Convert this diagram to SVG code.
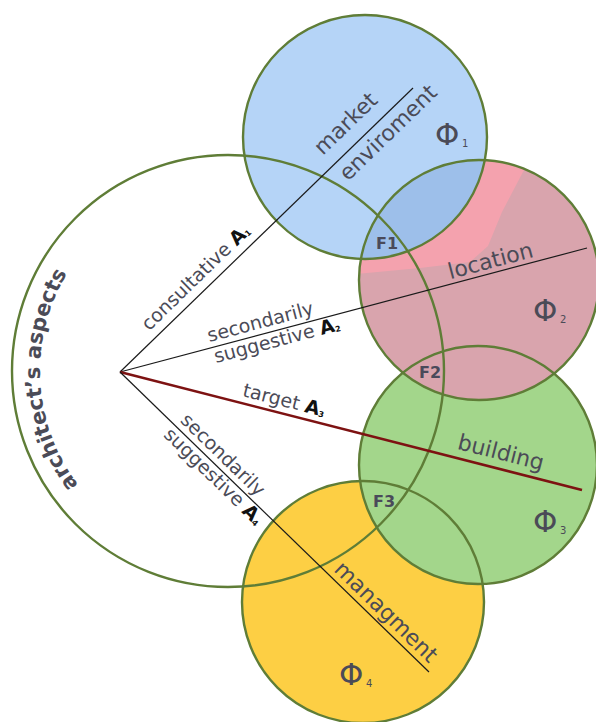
<svg xmlns="http://www.w3.org/2000/svg" width="596" height="722" viewBox="0 0 596 722">
<style>
  .ring{fill:none;stroke:#5f7d37;stroke-width:2.4}
  .lbl{font-family:"DejaVu Sans",Verdana,sans-serif;fill:#4b4b57}
  .big{font-size:22px}
  .mid{font-size:19px}
  .a{font-weight:bold;fill:#111}
  .sub{font-size:8px;font-weight:bold;fill:#111}
  .phi{font-family:"DejaVu Sans",sans-serif;font-size:31px;fill:#4b4b57}
  .phis{font-family:"DejaVu Sans",sans-serif;font-size:10px;fill:#4b4b57}
  .f{font-family:"DejaVu Sans",sans-serif;font-size:16px;font-weight:bold;fill:#4a4a5a}
  .ln{stroke:#1a1a1a;stroke-width:1.2;fill:none}
</style>
<defs>
  <clipPath id="clipRed"><circle cx="479" cy="280" r="120"/></clipPath>
  <path id="arcPath" d="M 142.6,538.5 A 188,188 0 0,1 125.6,213.3"/>
</defs>
<rect width="596" height="722" fill="#ffffff"/>

<g id="fills">
  <circle cx="363" cy="602" r="121" fill="#fdcf44"/>
  <circle cx="478" cy="465" r="119" fill="#a3d68b"/>
  <circle cx="479" cy="280" r="120" fill="#d9a4ad"/>
  <polygon clip-path="url(#clipRed)" points="355,150 532,150 524,170 502,212 488,246 470,262 420,268 355,274" fill="#f4a2ae"/>
  <circle cx="365" cy="137" r="122" fill="#b5d4f7"/>
  <circle clip-path="url(#clipRed)" cx="365" cy="137" r="122" fill="#9dbfea"/>
</g>

<g id="architect-aspects">
  <circle class="ring" cx="228" cy="371" r="216" stroke-width="2.2"/>
  <text class="lbl" font-size="21" font-weight="bold" fill="#444450"><textPath href="#arcPath" startOffset="50%" text-anchor="middle">architect’s aspects</textPath></text>
</g>

<g id="market-enviroment">
  <circle class="ring" cx="365" cy="137" r="122"/>
  <text class="phi" x="435" y="145">Φ</text><text class="phis" x="462" y="147">1</text>
</g>

<g id="location">
  <circle class="ring" cx="479" cy="280" r="120"/>
  <text class="phi" x="533" y="321">Φ</text><text class="phis" x="560" y="323">2</text>
</g>

<g id="building">
  <circle class="ring" cx="478" cy="465" r="119"/>
  <text class="phi" x="533" y="532">Φ</text><text class="phis" x="560" y="534">3</text>
</g>

<g id="managment">
  <circle class="ring" cx="363" cy="602" r="121"/>
  <text class="phi" x="339" y="685">Φ</text><text class="phis" x="366" y="687">4</text>
</g>

<g id="connectors">
  <line class="ln" x1="120" y1="372" x2="413" y2="88"/>
  <line class="ln" x1="120" y1="372" x2="587" y2="248"/>
  <line x1="120" y1="372" x2="582" y2="490" stroke="#7d1212" stroke-width="2.6"/>
  <line class="ln" x1="120" y1="372" x2="429" y2="672"/>
</g>

<g id="labels">
  <g transform="translate(120,372) rotate(-44.1)">
    <text class="lbl mid" x="49" y="-9">consultative <tspan class="a">A</tspan><tspan class="sub" dy="1">1</tspan></text>
    <text class="lbl big" x="296" y="-14">market</text>
    <text class="lbl big" x="296" y="22">enviroment</text>
  </g>
  <g transform="translate(120,372) rotate(-14.87)">
    <text class="lbl mid" x="94" y="-6">secondarily</text>
    <text class="lbl mid" x="95" y="16">suggestive <tspan class="a">A</tspan><tspan class="sub" dy="1">2</tspan></text>
    <text class="lbl big" x="343" y="-5">location</text>
  </g>
  <g transform="translate(120,372) rotate(14.33)">
    <text class="lbl mid" x="124" y="-7">target <tspan class="a">A</tspan><tspan class="sub" dy="1">3</tspan></text>
    <text class="lbl big" x="345" y="-9">building</text>
  </g>
  <g transform="translate(120,372) rotate(44.16)">
    <text class="lbl mid" x="77" y="-6">secondarily</text>
    <text class="lbl mid" x="75" y="16">suggestive <tspan class="a">A</tspan><tspan class="sub" dy="1">4</tspan></text>
    <text class="lbl big" x="291" y="-6">managment</text>
  </g>
  <text class="f" x="376" y="249">F1</text>
  <text class="f" x="419" y="378">F2</text>
  <text class="f" x="373" y="507">F3</text>
</g>
</svg>
